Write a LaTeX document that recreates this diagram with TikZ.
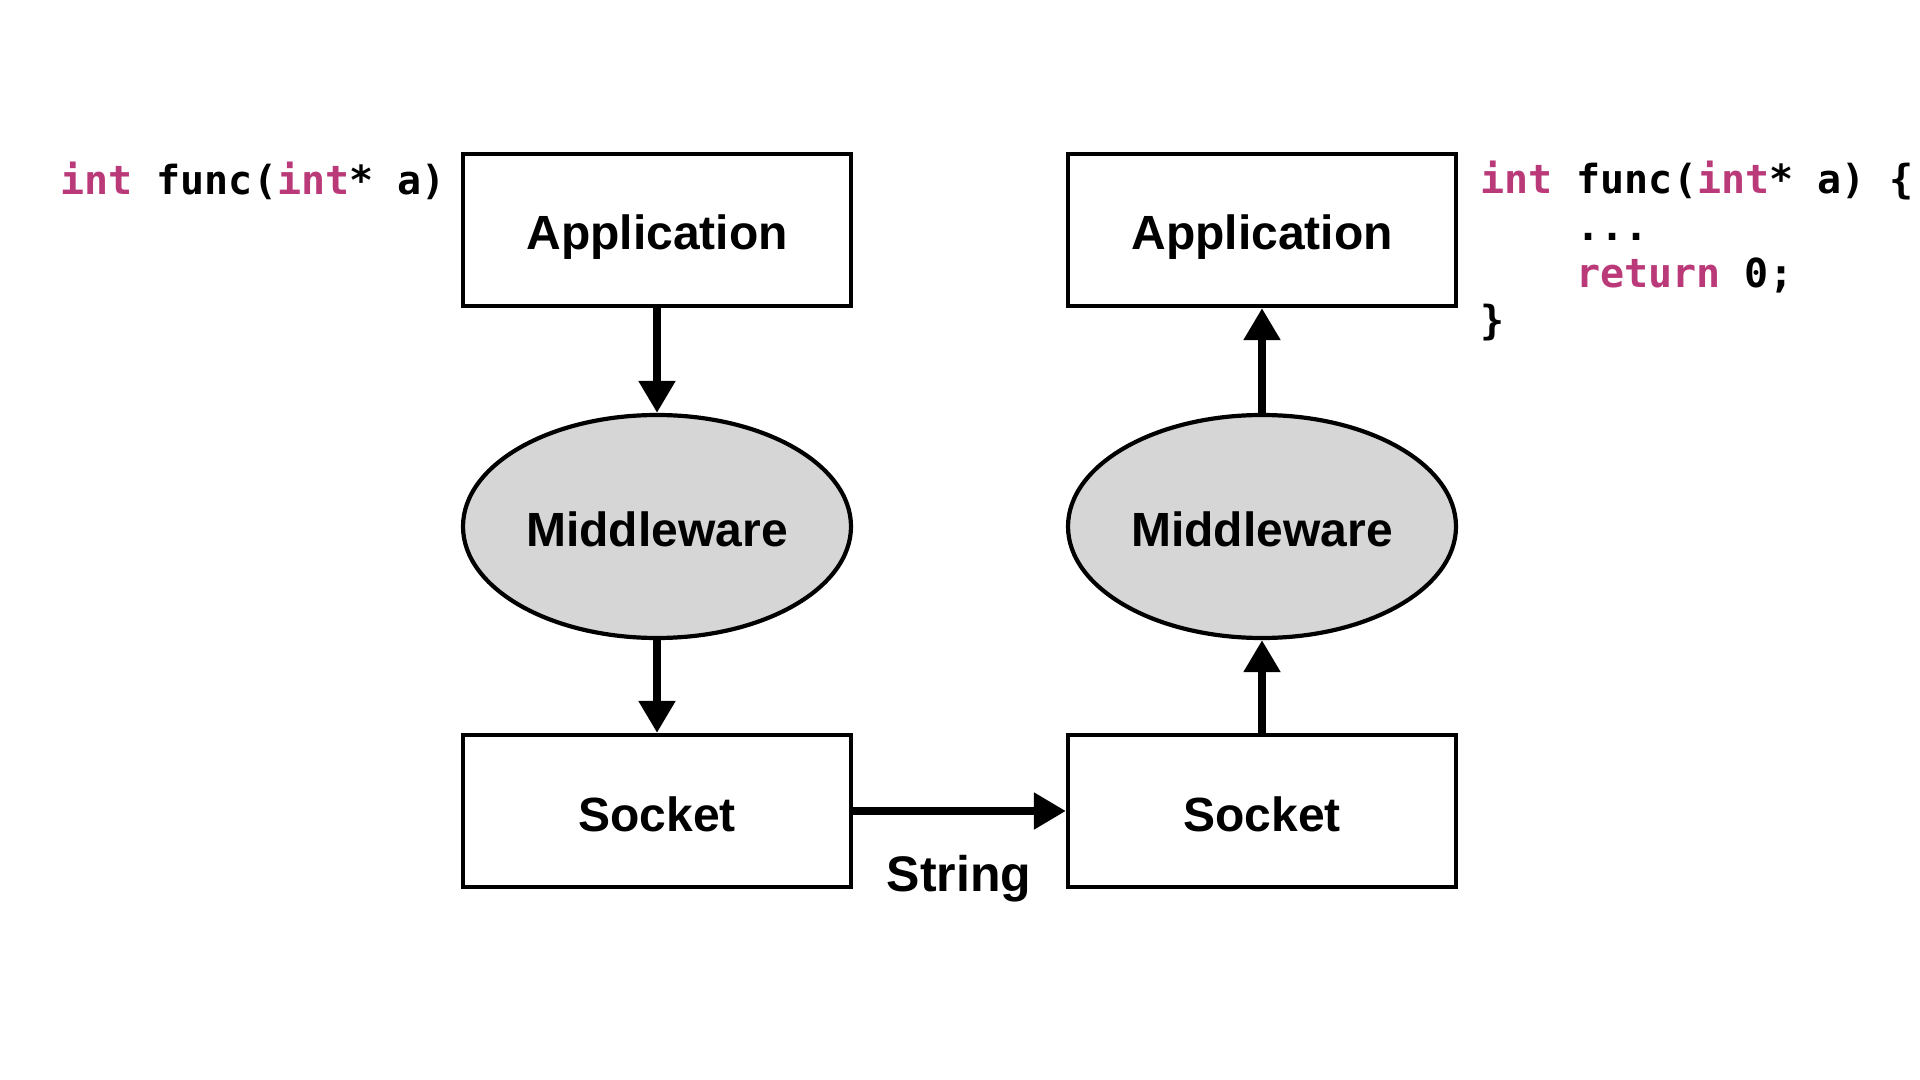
\documentclass[tikz,border=0pt]{standalone}
\usepackage{fontspec}
\setmainfont{Liberation Sans}
\newfontfamily\codefont{DejaVu Sans Mono}
\usetikzlibrary{shapes.geometric,arrows.meta}
\definecolor{kw}{RGB}{186,57,121}
\definecolor{midfill}{RGB}{214,214,214}
\tikzset{
  box/.style={draw=black, line width=2.1pt, minimum width=194pt, minimum height=76pt, inner sep=0pt, text height=20pt, text depth=0pt, font=\fontsize{24pt}{28pt}\selectfont\bfseries},
  mid/.style={ellipse, draw=black, fill=midfill, line width=2.1pt, minimum width=194pt, minimum height=111.5pt, inner sep=0pt, text height=20pt, text depth=0pt, font=\fontsize{24pt}{28pt}\selectfont\bfseries},
  flow/.style={line width=4.2pt, -{Triangle[length=16pt,width=17.5pt]}},
  code/.style={anchor=base west, inner sep=0pt, font=\codefont\fontsize{20pt}{24pt}\selectfont\bfseries},
  lbl/.style={anchor=base, inner sep=0pt, font=\fontsize{25pt}{29pt}\selectfont\bfseries}
}
\begin{document}
\begin{tikzpicture}[x=0.5pt,y=-0.5pt]
\useasboundingbox (0,0) rectangle (1920,1080);
\node[box] (appL) at (657,230) {Application};
\node[mid] (midL) at (657,526.5) {Middleware};
\node[box] (sockL) at (657,811) {Socket};
\node[box] (appR) at (1262,230) {Application};
\node[mid] (midR) at (1262,526.5) {Middleware};
\node[box] (sockR) at (1262,811) {Socket};
\draw[flow] (appL) -- (midL);
\draw[flow] (midL) -- (sockL);
\draw[flow] (sockL) -- (sockR);
\draw[flow] (sockR) -- (midR);
\draw[flow] (midR) -- (appR);
\node[lbl] (str) at (959,891) {String};
\node[code] (codeL) at (60,194.5) {\textcolor{kw}{int} func(\textcolor{kw}{int}* a)};
\node[code] (codeR1) at (1480,194) {\textcolor{kw}{int} func(\textcolor{kw}{int}* a) \{};
\node[code] (codeR2) at (1576,241) {...};
\node[code] (codeR3) at (1576,288) {\textcolor{kw}{return} 0;};
\node[code] (codeR4) at (1480,335) {\}};
\end{tikzpicture}
\end{document}
